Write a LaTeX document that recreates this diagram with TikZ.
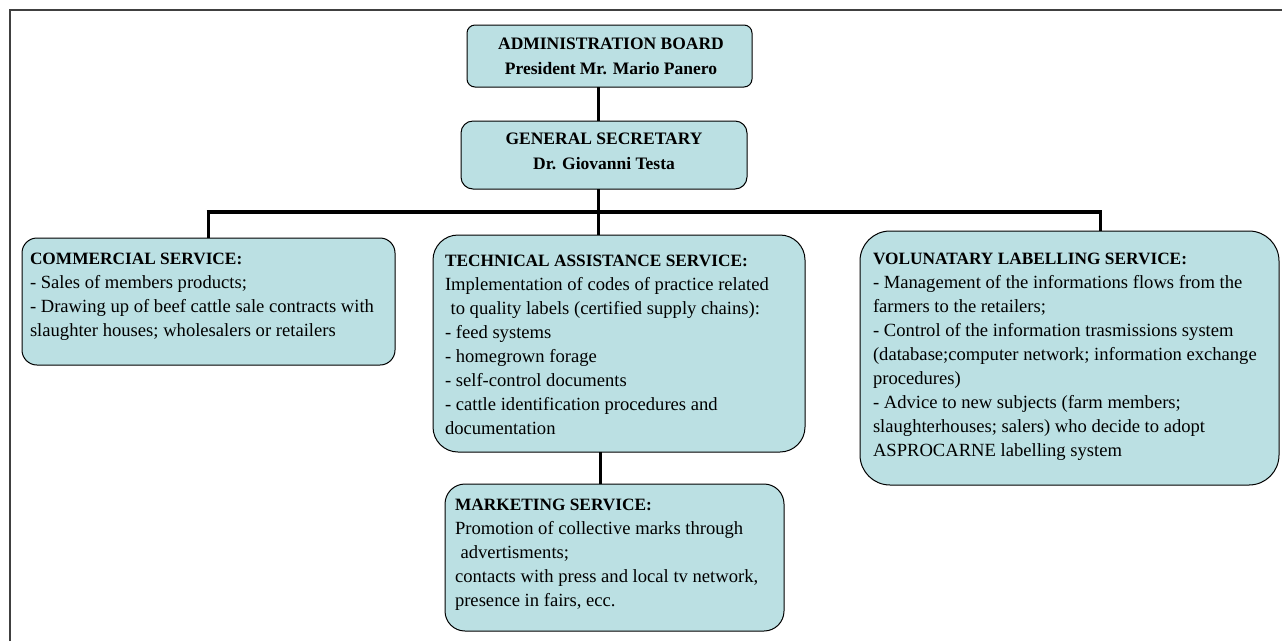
\documentclass[tikz,border=0pt]{standalone}
\usepackage{fontspec}
\setmainfont{Liberation Serif}
\begin{document}
\begin{tikzpicture}[x=1pt,y=-1pt,
  boxshape/.style={draw=black,line width=1pt,fill=boxfill,inner sep=0pt,outer sep=0pt,anchor=north west},
  txt/.style={inner sep=0pt,outer sep=0pt,anchor=north west,align=left,font=\fontsize{18.6}{24}\selectfont},
  ctxt/.style={inner sep=0pt,outer sep=0pt,align=center,font=\fontsize{17.5}{25}\selectfont\bfseries},
  conn/.style={line width=3pt,black},
  barline/.style={line width=4pt,black}]
\definecolor{boxfill}{RGB}{187,224,227}
\newcommand{\ttl}[1]{{\fontsize{17.3}{24}\selectfont\bfseries #1}}
\useasboundingbox (0,0) rectangle (1282,641);
\fill[white] (0,0) rectangle (1282,641);
\draw[line width=1.3pt,black!75] (10,641) -- (10,10) -- (1282,10);
% boxes
\node[boxshape,rounded corners=8pt,minimum width=285pt,minimum height=62pt] (adm) at (467,25) {};
\node[boxshape,rounded corners=12pt,minimum width=286pt,minimum height=68pt] (gs) at (461,121) {};
\node[boxshape,rounded corners=15pt,minimum width=373pt,minimum height=127pt] (com) at (22,238) {};
\node[boxshape,rounded corners=25pt,minimum width=372pt,minimum height=217pt] (tech) at (433,235) {};
\node[boxshape,rounded corners=20pt,minimum width=339pt,minimum height=147pt] (mkt) at (445,484) {};
\node[boxshape,rounded corners=30pt,minimum width=419pt,minimum height=254pt] (vol) at (860,231) {};
% connectors
\coordinate (jl) at (208,212);
\coordinate (jm) at (598,212);
\coordinate (jr) at (1100,212);
\coordinate (jt) at (600,452);
\draw[conn] (adm.south -| jm) -- (gs.north -| jm);
\draw[conn] (gs.south -| jm) -- (tech.north -| jm);
\draw[conn] (jl) -- (jl |- com.north);
\draw[conn] (jr) -- (jr |- vol.north);
\draw[barline] ([xshift=-1.5pt]jl) -- ([xshift=1.5pt]jr);
\draw[conn] (tech.south -| jt) -- (mkt.north -| jt);
% texts
\node[ctxt] (admt) at (611,56) {ADMINISTRATION BOARD\\President Mr. Mario Panero};
\node[ctxt] (gst) at (604,151) {GENERAL SECRETARY\\Dr. Giovanni Testa};
\node[txt] (comt) at (30,253) {\ttl{COMMERCIAL SERVICE:}\\- Sales of members products;\\- Drawing up of beef cattle sale contracts with\\slaughter houses; wholesalers or retailers};
\node[txt] (techt) at (445,255) {\ttl{TECHNICAL ASSISTANCE SERVICE:}\\Implementation of codes of practice related\\\hspace*{0.3em}to quality labels (certified supply chains):\\- feed systems\\- homegrown forage\\- self-control documents\\- cattle identification procedures and\\documentation};
\node[txt] (mktt) at (455,499) {\ttl{MARKETING SERVICE:}\\Promotion of collective marks through\\\hspace*{0.3em}advertisments;\\contacts with press and local tv network,\\presence in fairs, ecc.};
\node[txt] (volt) at (873,253) {\ttl{VOLUNATARY LABELLING SERVICE:}\\- Management of the informations flows from the\\farmers to the retailers;\\- Control of the information trasmissions system\\(database;computer network; information exchange\\procedures)\\- Advice to new subjects (farm members;\\slaughterhouses; salers) who decide to adopt\\ASPROCARNE labelling system};
\end{tikzpicture}
\end{document}
